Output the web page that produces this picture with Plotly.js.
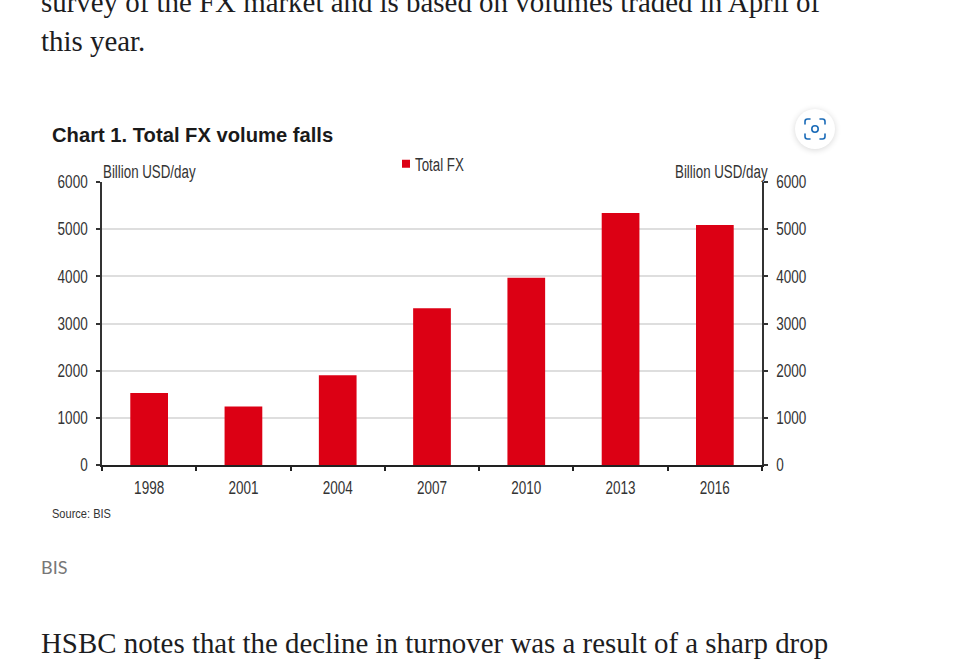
<!DOCTYPE html>
<html><head><meta charset="utf-8">
<script src="https://cdn.plot.ly/plotly-3.0.1.min.js"></script>
<style>
html,body{margin:0;padding:0;background:#fff;overflow:hidden}
#chart{width:967px;height:667px;position:relative}
#lens{position:absolute;left:795px;top:109px;width:40px;height:40px;border-radius:50%;background:#fff;box-shadow:0 1px 6px rgba(0,0,0,.16);z-index:5}
</style></head><body>
<div id="chart"></div>
<div id="lens"><svg width="40" height="40" viewBox="0 0 40 40" fill="none" stroke="#1a6bb8" stroke-width="1.6" stroke-linecap="round"><path d="M10 15v-2.5a2.5 2.5 0 0 1 2.5-2.5H15M25 10h2.5a2.5 2.5 0 0 1 2.5 2.5V15M30 25v2.500a2.500 2.500 0 0 1-2.500 2.500H25M15 30h-2.500a2.500 2.500 0 0 1-2.500-2.500V25"/><circle cx="20" cy="20" r="3.200"/></svg></div>
<script>
const years = ['1998','2001','2004','2007','2010','2013','2016'];
const totalFX = [1527,1240,1905,3324,3970,5345,5090];
const seriesName = 'Total FX';
const chartTitle = 'Chart 1. Total FX volume falls';
const unitLabel = 'Billion USD/day';
const sourceLabel = 'Source: BIS';
const captionLabel = 'BIS';
const bodyTop = ['survey of the FX market and is based on volumes traded in April of','this year.'];
const bodyBottom = 'HSBC notes that the decline in turnover was a result of a sharp drop';
const yTicks = [0,1000,2000,3000,4000,5000,6000];

const W=967,H=667;
const RED='#DC0014', SANS='"Liberation Sans",Arial,sans-serif', SERIF='"Liberation Serif",serif';
const PW=660;
const note=(text,px,py,size,color,family)=>({text,xref:'paper',yref:'paper',x:(px-2-102)/PW,y:(465-py)/283,xanchor:'left',yanchor:'middle',showarrow:false,align:'left',font:{size,color,family}});
const yax={range:[0,6000],tickvals:yTicks,ticktext:yTicks.map(String),ticks:'outside',ticklen:4,tickwidth:1.500,tickcolor:'#333',showline:true,linecolor:'#333',linewidth:1.500,tickfont:{family:SANS,size:18,color:'#333'},zeroline:false};
Plotly.newPlot('chart',[
 {type:'bar',x:years,y:totalFX,name:seriesName,marker:{color:RED},showlegend:false,hoverinfo:'x+y'},
 {type:'scatter',mode:'markers',x:[years[0]],y:[null],yaxis:'y2',name:seriesName,marker:{symbol:'square',size:8,color:RED}}
],{
 width:W,height:H,margin:{l:102,r:205,t:182,b:202,pad:0},
 paper_bgcolor:'#fff',plot_bgcolor:'#fff',bargap:0.6,
 title:{text:chartTitle,xref:'container',yref:'container',x:52/W,y:1-135/H,xanchor:'left',yanchor:'middle',pad:{l:0,r:0,t:0,b:0},font:{family:SANS,size:20.2,color:'#1a1a1a',weight:'bold'}},
 showlegend:true,
 legend:{x:(402-102-16)/PW,y:(465-164)/283,xanchor:'left',yanchor:'middle',bgcolor:'rgba(0,0,0,0)',font:{family:SANS,size:18,color:'#333'},borderwidth:0},
 xaxis:{type:'category',categoryorder:'array',categoryarray:years,range:[-0.5,6.5],tickson:'boundaries',ticks:'outside',ticklen:4,tickwidth:1.500,tickcolor:'#222',showline:true,linecolor:'#222',linewidth:2,tickfont:{family:SANS,size:18,color:'#333'},ticklabelstandoff:5,showgrid:false},
 yaxis:Object.assign({},yax,{gridcolor:'#dedede',gridwidth:1.500,showgrid:true,ticklabelstandoff:5}),
 yaxis2:Object.assign({},yax,{overlaying:'y',side:'right',showgrid:false,ticklabelstandoff:5}),
 annotations:[
  note(unitLabel,103,172,18,'#333',SANS),
  note(unitLabel,675,172,18,'#333',SANS),
  note(sourceLabel,52,513,13,'#333',SANS),
  note(captionLabel,41,567,18,'#777','Lato,sans-serif'),
  note(bodyTop[0],41,2,28.9,'#1d1d1f',SERIF),
  note(bodyTop[1],41,41,28.9,'#1d1d1f',SERIF),
  note(bodyBottom,41,643,28.9,'#1d1d1f',SERIF)
 ]
},{displayModeBar:false,responsive:false}).then(gd=>{
 // the source chart uses a condensed face: narrow the drawn labels to match
 const squeeze=(el,k)=>{el.setAttribute('textLength',el.getComputedTextLength()*k);el.setAttribute('lengthAdjust','spacingAndGlyphs');};
 gd.querySelectorAll('.xtick text,.ytick text,.y2tick text').forEach(t=>squeeze(t,0.75));
 gd.querySelectorAll('.annotation-text').forEach(t=>{
  if(t.textContent===unitLabel) squeeze(t,0.74);
  if(t.textContent===sourceLabel) squeeze(t,0.85);
 });
 gd.querySelectorAll('.legendtext').forEach(t=>{squeeze(t,0.74);t.setAttribute('x',parseFloat(t.getAttribute('x'))-11);});
});
</script></body></html>
